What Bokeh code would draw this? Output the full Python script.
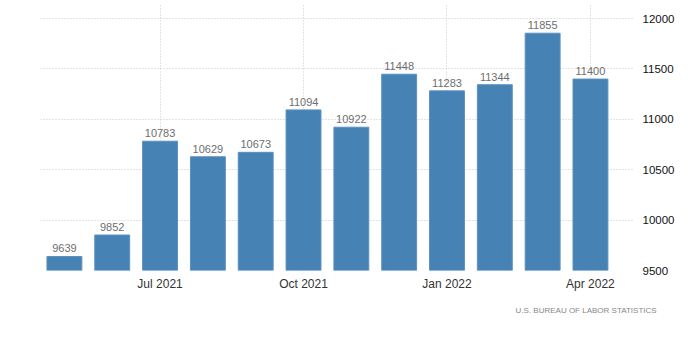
from bokeh.plotting import figure
from bokeh.models import ColumnDataSource, FixedTicker, Range1d, LinearAxis, Title
from bokeh.core.properties import value
from bokeh.embed import file_html
from bokeh.resources import INLINE

months = ["May 2021", "Jun 2021", "Jul 2021", "Aug 2021", "Sep 2021", "Oct 2021",
          "Nov 2021", "Dec 2021", "Jan 2022", "Feb 2022", "Mar 2022", "Apr 2022"]
values = [9639, 9852, 10783, 10629, 10673, 11094, 10922, 11448, 11283, 11344, 11855, 11400]
tick_labels = {2: "Jul 2021", 5: "Oct 2021", 8: "Jan 2022", 11: "Apr 2022"}
y_ticks = [9500, 10000, 10500, 11000, 11500, 12000]
source_text = "U.S.  BUREAU  OF  LABOR  STATISTICS"

idx = list(range(len(months)))
src = ColumnDataSource(dict(x=idx, top=values, label=[str(v) for v in values], month=months))

p = figure(width=700, height=357, output_backend="svg", toolbar_location=None,
           x_range=Range1d(-0.5, 11.9), y_range=Range1d(9500, 12150),
           min_border_left=40, min_border_right=67, min_border_top=3, min_border_bottom=87,
           y_axis_location=None, x_axis_location=None)
p.outline_line_color = None
p.background_fill_color = "white"

p.vbar(x="x", top="top", bottom=9500, width=0.73, source=src,
       fill_color="#4682B4", line_color="#5b91c0", line_width=1)

p.text(x="x", y="top", text="label", source=src, text_align="center",
       text_baseline="bottom", y_offset=-4, text_color="#6e6e6e",
       text_font=value("Liberation Sans"), text_font_size="11px")

xaxis = LinearAxis(ticker=FixedTicker(ticks=list(tick_labels.keys())),
                   major_label_overrides={k: v for k, v in tick_labels.items()})
xaxis.axis_line_color = None
xaxis.major_tick_line_color = None
xaxis.minor_tick_line_color = None
xaxis.major_label_text_font = "Liberation Sans"
xaxis.major_label_text_font_size = "12px"
xaxis.major_label_text_color = "#333333"
xaxis.major_label_standoff = 0
p.add_layout(xaxis, "below")

yaxis = LinearAxis(ticker=FixedTicker(ticks=y_ticks))
yaxis.axis_line_color = None
yaxis.major_tick_line_color = None
yaxis.minor_tick_line_color = None
yaxis.major_label_text_font = "Liberation Sans"
yaxis.major_label_text_font_size = "11.5px"
yaxis.major_label_text_color = "#111111"
yaxis.major_label_standoff = 3
p.add_layout(yaxis, "right")

p.xgrid.grid_line_color = "#c8c8c8"
p.xgrid.grid_line_dash = "1 2"
p.ygrid.grid_line_color = "#c8c8c8"
p.ygrid.grid_line_dash = "1 2"
p.xgrid.ticker = xaxis.ticker
p.ygrid.ticker = yaxis.ticker

t = Title(text=source_text, align="right", text_font="Liberation Sans",
          text_font_size="8px", text_color="#888888", text_font_style="normal",
          standoff=20, offset=-32)
p.add_layout(t, "below")

open("out.html", "w").write(file_html(p, INLINE))
